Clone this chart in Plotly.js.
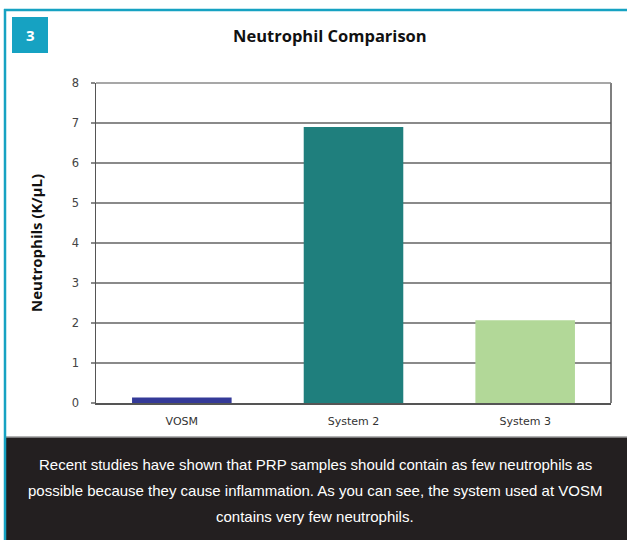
<!DOCTYPE html>
<html><head><meta charset="utf-8">
<script src="https://cdn.plot.ly/plotly-3.0.1.min.js"></script>
<style>html,body{margin:0;padding:0;background:#fff;}#chart{width:627px;height:540px;}</style>
</head><body><div id="chart"></div>
<script>
const categories = ["VOSM", "System 2", "System 3"];
const neutrophils = [0.14, 6.9, 2.07];
const barColors = ["#343a98", "#1f7f7d", "#b2d898"];
const yTicks = [0, 1, 2, 3, 4, 5, 6, 7, 8];
const chartTitle = "Neutrophil Comparison";
const yTitle = "Neutrophils (K/µL)";
const badgeText = "3";
const captionLines = [
  "Recent studies have shown that PRP samples should contain as few neutrophils as",
  "possible because they cause inflammation. As you can see, the system used at VOSM",
  "contains very few neutrophils."
];

const W = 627, H = 540, L = 96, R = 16, T = 83, B = 137;
const pw = W - L - R, ph = H - T - B;
const px = x => (x - L) / pw;
const py = y => (H - B - y) / ph;

const teal = "#16a2c2";
const shapes = [
  {type:"rect", xref:"paper", yref:"paper", x0:px(6), x1:px(627), y0:py(540), y1:py(437), fillcolor:"#231f20", line:{width:0}, layer:"below"},
  {type:"line", xref:"paper", yref:"paper", x0:px(6), x1:px(627), y0:py(437), y1:py(437), line:{color:"#9a9a9a", width:1.5}},
  {type:"line", xref:"paper", yref:"paper", x0:px(4), x1:px(627), y0:py(10), y1:py(10), line:{color:teal, width:2.5}},
  {type:"line", xref:"paper", yref:"paper", x0:px(5), x1:px(5), y0:py(9), y1:py(540), line:{color:teal, width:2.5}},
  {type:"rect", xref:"paper", yref:"paper", x0:px(12), x1:px(48), y0:py(53), y1:py(17), fillcolor:teal, line:{width:0}},
  {type:"line", xref:"paper", yref:"paper", x0:1, x1:1, y0:0, y1:1, line:{color:"#555", width:1.5}},
  {type:"line", xref:"paper", yref:"paper", x0:0, x1:1, y0:1, y1:1, line:{color:"#8a8a8a", width:1.5}}
];

const annotations = [
  {text:"<b>"+chartTitle+"</b>", xref:"paper", yref:"paper", x:px(330), y:py(35), showarrow:false, xanchor:"center", yanchor:"middle", font:{family:"Open Sans, sans-serif", size:16.5, color:"#111"}},
  {text:"<b>"+badgeText+"</b>", xref:"paper", yref:"paper", x:px(30), y:py(35), showarrow:false, xanchor:"center", yanchor:"middle", font:{family:"Open Sans, sans-serif", size:15, color:"#fff"}},
  {text:"<b>"+yTitle+"</b>", xref:"paper", yref:"paper", x:px(36), y:py(243), showarrow:false, textangle:-90, xanchor:"center", yanchor:"middle", font:{family:"Open Sans, sans-serif", size:15, color:"#111"}}
];
const captionY = [464, 490, 516];
captionLines.forEach((line, i) => {
  annotations.push({text:line, xref:"paper", yref:"paper", x:px(315), y:py(captionY[i]), showarrow:false, xanchor:"center", yanchor:"middle", font:{family:"Liberation Sans, Arial, sans-serif", size:15, color:"#fff"}});
});

const trace = {
  type:"bar", x:categories, y:neutrophils,
  marker:{color:barColors, line:{width:0}},
  hoverinfo:"none"
};

const layout = {
  width:W, height:H,
  margin:{l:L, r:R, t:T, b:B, pad:0},
  paper_bgcolor:"#fff", plot_bgcolor:"#fff",
  bargap:0.42,
  showlegend:false,
  xaxis:{
    type:"category", showgrid:false, zeroline:false,
    showline:true, linecolor:"#555", linewidth:1.5,
    ticks:"", tickfont:{family:"DejaVu Sans, sans-serif", size:11, color:"#333"},
    ticklabelstandoff:7
  },
  yaxis:{
    range:[0,8], tickvals:yTicks, ticktext:yTicks.map(String),
    showgrid:true, gridcolor:"#8a8a8a", gridwidth:1.5,
    zeroline:false, showline:true, linecolor:"#555", linewidth:1.5,
    ticks:"outside", ticklen:4, tickcolor:"#8a8a8a", tickwidth:1.5,
    ticklabelstandoff:9,
    tickfont:{family:"DejaVu Sans, sans-serif", size:11.5, color:"#444"}
  },
  shapes:shapes, annotations:annotations
};

Plotly.newPlot("chart", [trace], layout, {displayModeBar:false, staticPlot:true});
</script></body></html>
